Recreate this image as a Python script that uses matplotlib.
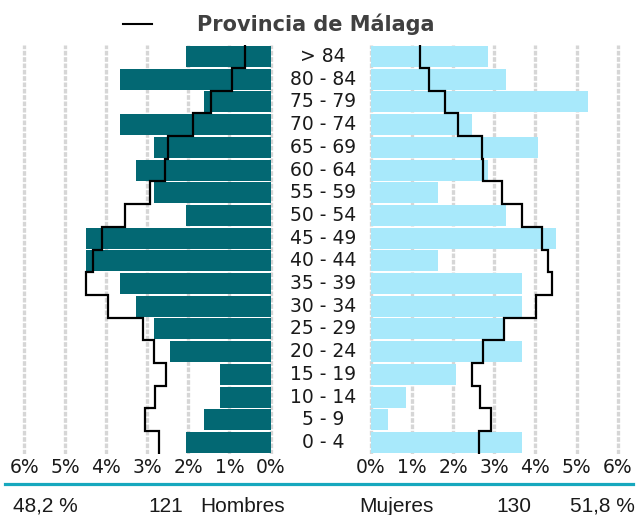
import numpy as np
import matplotlib
matplotlib.use('Agg')
import matplotlib.pyplot as plt
from matplotlib.lines import Line2D
from matplotlib.transforms import blended_transform_factory

ages = ['0 - 4', '5 - 9', '10 - 14', '15 - 19', '20 - 24', '25 - 29', '30 - 34',
        '35 - 39', '40 - 44', '45 - 49', '50 - 54', '55 - 59', '60 - 64',
        '65 - 69', '70 - 74', '75 - 79', '80 - 84', '> 84']

# % of total population, bottom (0-4) to top (> 84)
hombres = [2.05, 1.61, 1.22, 1.22, 2.44, 2.83, 3.27, 3.66, 4.49, 4.49,
           2.05, 2.83, 3.27, 2.83, 3.66, 1.61, 3.66, 2.05]
mujeres = [3.67, 0.41, 0.86, 2.08, 3.67, 3.24, 3.67, 3.67, 1.62, 4.49,
           3.28, 1.62, 2.84, 4.06, 2.46, 5.27, 3.28, 2.84]

# Provincia de Málaga outline
prov_hombres = [2.72, 3.07, 2.81, 2.55, 2.84, 3.11, 3.95, 4.49, 4.32, 4.10,
                3.55, 2.94, 2.56, 2.50, 1.89, 1.45, 0.94, 0.61]
prov_mujeres = [2.62, 2.92, 2.64, 2.46, 2.73, 3.24, 4.01, 4.40, 4.30, 4.17,
                3.67, 3.19, 2.73, 2.69, 2.12, 1.80, 1.41, 1.19]

ticks = [0, 1, 2, 3, 4, 5, 6]
tick_labels = ['0%', '1%', '2%', '3%', '4%', '5%', '6%']

total_h, total_m = 121, 130
pct_h, pct_m = '48,2 %', '51,8 %'

W, H = 640, 515
fig = plt.figure(figsize=(W / 100, H / 100), dpi=100)


def px(x0, y0, w, h):
    return [x0 / W, 1 - (y0 + h) / H, w / W, h / H]


ax_h = fig.add_axes(px(21.0, 45.15, 252.8, 408.7))
ax_m = fig.add_axes(px(367.7, 45.15, 253.2, 408.7))

y = np.arange(len(ages))
edges = np.arange(len(ages) + 1) - 0.5

ax_h.barh(y, hombres, height=0.925, color='#036873', zorder=2)
ax_m.barh(y, mujeres, height=0.925, color='#a8e9fb', zorder=2)
ax_h.stairs(prov_hombres, edges, orientation='horizontal', baseline=None,
            color='black', lw=1.6, zorder=3)
ax_m.stairs(prov_mujeres, edges, orientation='horizontal', baseline=None,
            color='black', lw=1.6, zorder=3)

for ax in (ax_h, ax_m):
    ax.set_ylim(-0.5, len(ages) - 0.5)
    ax.set_yticks([])
    for s in ax.spines.values():
        s.set_visible(False)
    ax.set_xticks(ticks)
    ax.set_xticklabels(tick_labels)
    ax.tick_params(axis='x', length=0, pad=3, labelsize=13.5, labelcolor='#1a1a1a')
    for t in ticks:
        ax.axvline(t, color='#d6d6d6', linewidth=2.4, linestyle=(0, (1.4, 0.5)), zorder=0)
    ax.patch.set_alpha(0)

ax_h.set_xlim(6.08, -0.08)
ax_m.set_xlim(-0.08, 6.08)

# age group labels in the gap
tr = blended_transform_factory(fig.transFigure, ax_h.transData)
for i, a in enumerate(ages):
    fig.text(323 / W, i, a, transform=tr, ha='center', va='center',
             fontsize=13.5, color='#1a1a1a')

# title + legend key
fig.text(316 / W, 1 - 30.7 / H, 'Provincia de Málaga', ha='center', va='baseline',
         fontsize=15, fontweight='bold', color='#404040')
fig.add_artist(Line2D([123 / W, 152 / W], [1 - 24 / H] * 2, color='black', lw=1.5))

# footer
fig.add_artist(Line2D([5 / W, 633 / W], [1 - 484.3 / H] * 2, color='#17a8be', lw=2.3))
foot = dict(va='baseline', fontsize=15, color='#1a1a1a', family='Liberation Sans')
yb = 1 - 511.7 / H
fig.text(12.7 / W, yb, pct_h, ha='left', **foot)
fig.text(183 / W, yb, str(total_h), ha='right', **foot)
fig.text(200 / W, yb, 'Hombres', ha='left', **foot)
fig.text(359 / W, yb, 'Mujeres', ha='left', **foot)
fig.text(496 / W, yb, str(total_m), ha='left', **foot)
fig.text(635 / W, yb, pct_m, ha='right', **foot)

fig.savefig('out.png', dpi=100)
